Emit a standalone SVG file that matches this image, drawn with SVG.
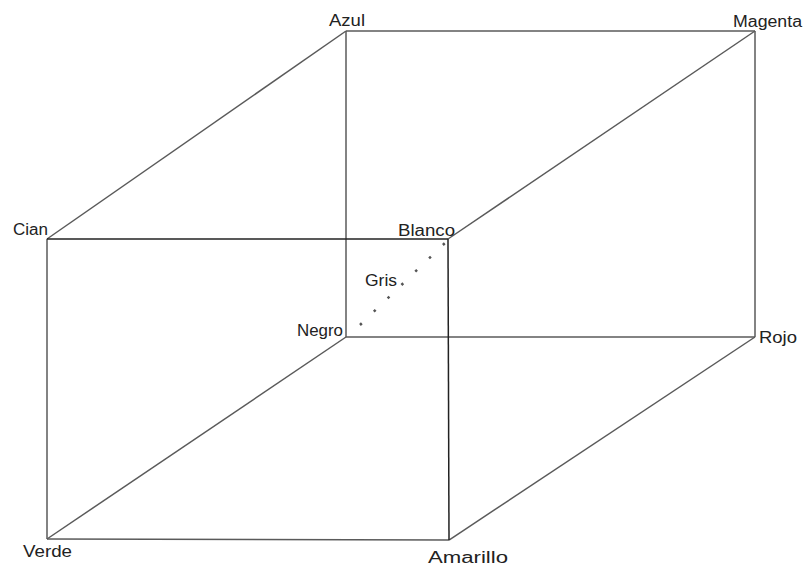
<svg xmlns="http://www.w3.org/2000/svg" width="806" height="565" viewBox="0 0 806 565">
<style>
.e{stroke:#5a5a5a;stroke-width:1.5;fill:none}
.f{stroke:#222;stroke-width:1.5;fill:none}
.d{stroke:#555;stroke-width:2.5;fill:none;stroke-dasharray:2.5 16.7}
text{font-family:"Liberation Sans",Arial,sans-serif;font-size:16px;fill:#222}
</style>
<rect width="806" height="565" fill="#fff"/>
<g id="connectors">
<line class="e" x1="346" y1="31" x2="755" y2="31"/>
<line class="e" x1="346" y1="31" x2="346" y2="337"/>
<line class="e" x1="755" y1="31" x2="755" y2="337"/>
<line class="e" x1="346" y1="337" x2="755" y2="337"/>
<line class="e" x1="47" y1="239" x2="346" y2="31"/>
<line class="e" x1="448" y1="239" x2="755" y2="31"/>
<line class="e" x1="47" y1="539" x2="346" y2="337"/>
<line class="e" x1="449" y1="540" x2="755" y2="337"/>
<line class="e" x1="47" y1="239" x2="47" y2="539"/>
<line class="e" x1="47" y1="539" x2="449" y2="540"/>
<line class="f" x1="47" y1="239" x2="448" y2="239"/>
<line class="f" x1="448" y1="239" x2="449" y2="540"/>
<line class="d" x1="360" y1="325" x2="446" y2="242"/>
</g>
<g id="Azul"><text x="329" y="26" textLength="36" lengthAdjust="spacingAndGlyphs">Azul</text></g>
<g id="Magenta"><text x="733" y="27" textLength="69" lengthAdjust="spacingAndGlyphs">Magenta</text></g>
<g id="Cian"><text x="13" y="235" textLength="35" lengthAdjust="spacingAndGlyphs">Cian</text></g>
<g id="Blanco"><text x="398" y="236" textLength="57" lengthAdjust="spacingAndGlyphs">Blanco</text></g>
<g id="Gris"><text x="365" y="286" textLength="32" lengthAdjust="spacingAndGlyphs">Gris</text></g>
<g id="Negro"><text x="297" y="336" textLength="46" lengthAdjust="spacingAndGlyphs">Negro</text></g>
<g id="Rojo"><text x="759" y="343" textLength="38" lengthAdjust="spacingAndGlyphs">Rojo</text></g>
<g id="Verde"><text x="23" y="557" textLength="49" lengthAdjust="spacingAndGlyphs">Verde</text></g>
<g id="Amarillo"><text x="428" y="563" textLength="80" lengthAdjust="spacingAndGlyphs">Amarillo</text></g>
</svg>
